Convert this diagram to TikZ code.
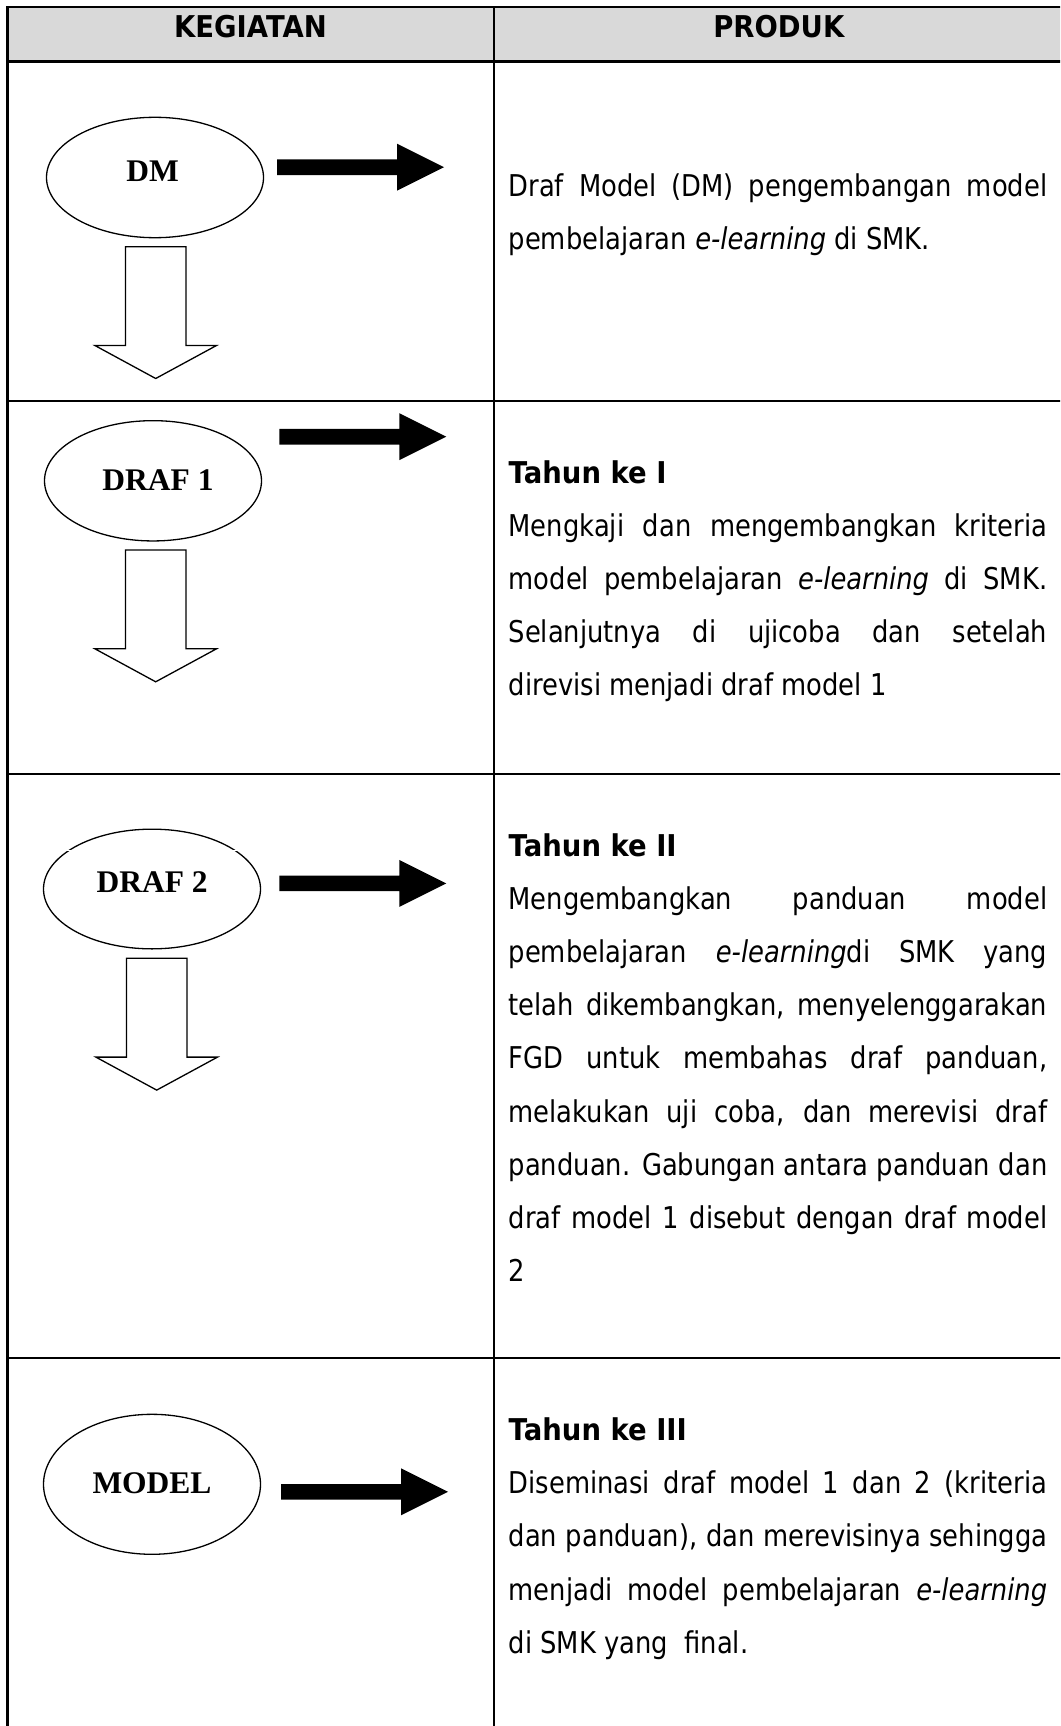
\documentclass[tikz,border=0pt]{standalone}
\usepackage{fontspec}
\setmainfont{DejaVu Sans}[FakeStretch=0.86]
\newfontfamily\headfam{DejaVu Sans}[FakeStretch=0.915]
\newfontfamily\labelfam{Liberation Serif}
\usetikzlibrary{shapes.geometric}

\definecolor{hdrgray}{RGB}{217,217,217}

% width of the text column and helpers for justified / ragged lines
\newlength\prodwidth
\setlength\prodwidth{538.5pt}
\newcommand\jline[1]{\hbox to \prodwidth{#1}}
\newcommand\lline[1]{\hbox{#1}}
\newcommand\prodblock[1]{\parbox[t]{\prodwidth}{\fontsize{30}{53.2}\selectfont\parindent=0pt #1}}

\tikzset{
  rule/.style={line width=2.4pt},
  stage/.style={ellipse, draw, line width=1.3pt, minimum width=217pt, inner sep=0pt},
  stagelabel/.style={anchor=base, inner sep=0pt, font=\labelfam\bfseries\fontsize{31.5}{36}\selectfont},
  headlabel/.style={anchor=base, inner sep=0pt, font=\headfam\bfseries\fontsize{30}{34}\selectfont},
  prodtext/.style={anchor=base west, inner sep=0pt},
  rarrow/.pic={\fill[black] (0,-7.8) -- (120,-7.8) -- (120,-23.5) -- (167,0)
      -- (120,23.5) -- (120,7.8) -- (0,7.8) -- cycle;},
  darrow/.pic={\filldraw[fill=white, draw=black, line width=1.3pt, line join=miter]
      (-30.3,0) -- (30.3,0) -- (30.3,98.8) -- (60.8,98.8) -- (0,131.8)
      -- (-60.8,98.8) -- (-30.3,98.8) -- cycle;}
}

\begin{document}
\begin{tikzpicture}[x=1pt, y=-1pt]
\useasboundingbox (0,0) rectangle (1060,1726);
\fill[white] (0,0) rectangle (1060,1726);
\clip (0,0) rectangle (1060,1726);

% table frame
\fill[hdrgray] (7.3,7.3) rectangle (1070,61.7);
\draw[rule] (1070,7.3) -- (7.3,7.3) -- (7.3,1740);
\draw[rule] (494,7.3) -- (494,1740);
\draw[rule] (7.3,61.7) -- (1070,61.7);
\draw[rule] (7.3,400.7) -- (1070,400.7);
\draw[rule] (7.3,774) -- (1070,774);
\draw[rule] (7.3,1358) -- (1070,1358);

% column headings
\node[headlabel] (hkeg) at (250.5,37.3) {KEGIATAN};
\node[headlabel] (hprod) at (778.8,37.3) {PRODUK};

% stages
\node[stage, minimum height=120.4pt] (dm) at (155,177.5) {};
\node[stagelabel] (dmlab) at (152.5,181) {DM};
\node[stage, minimum height=120.3pt] (d1) at (153,480.8) {};
\node[stagelabel] (d1lab) at (158,490) {DRAF 1};
\node[stage, minimum height=119.7pt] (d2) at (152,889) {};
\draw[white, line width=1.4pt] (62,850.5) -- (242,850.5);
\node[stagelabel] (d2lab) at (152.2,892) {DRAF 2};
\node[stage, minimum height=140pt] (md) at (152,1484.3) {};
\node[stagelabel] (mdlab) at (152,1493.3) {MODEL};

% arrows towards the product column
\pic (dmr) at (277,167.2) {rarrow};
\pic (d1r) at (279.3,436.7) {rarrow};
\pic (d2r) at (279.3,883.4) {rarrow};
\pic (mdr) at (281,1491.8) {rarrow};

% arrows between stages
\pic (dmd) at (155.7,246.7) {darrow};
\pic (d1d) at (155.7,550) {darrow};
\pic (d2d) at (156.7,958.3) {darrow};

% product descriptions
\node[prodtext] (pdm) at (508.5,196) {\prodblock{%
  \jline{Draf Model (DM) pengembangan model}
  \lline{pembelajaran \textit{e-learning} di SMK.}}};

\node[prodtext] (pd1) at (508.5,483) {\prodblock{%
  \lline{\headfam\bfseries Tahun ke I}
  \jline{Mengkaji dan mengembangkan kriteria}
  \jline{model pembelajaran \textit{e-learning} di SMK.}
  \jline{Selanjutnya di ujicoba dan setelah}
  \lline{direvisi menjadi draf model 1}}};

\node[prodtext] (pd2) at (508.5,856) {\prodblock{%
  \lline{\headfam\bfseries Tahun ke II}
  \jline{Mengembangkan panduan model}
  \jline{pembelajaran \textit{e-learning}di SMK yang}
  \jline{telah dikembangkan, menyelenggarakan}
  \jline{FGD untuk membahas draf panduan,}
  \jline{melakukan uji coba, dan merevisi draf}
  \jline{panduan. Gabungan antara panduan dan}
  \jline{draf model 1 disebut dengan draf model}
  \lline{2}}};

\node[prodtext] (pmd) at (508.5,1440.5) {\prodblock{%
  \lline{\headfam\bfseries Tahun ke III}
  \jline{Diseminasi draf model 1 dan 2 (kriteria}
  \jline{dan panduan), dan merevisinya sehingga}
  \jline{menjadi model pembelajaran \textit{e-learning}}
  \lline{di SMK yang~ final.}}};
\end{tikzpicture}
\end{document}
